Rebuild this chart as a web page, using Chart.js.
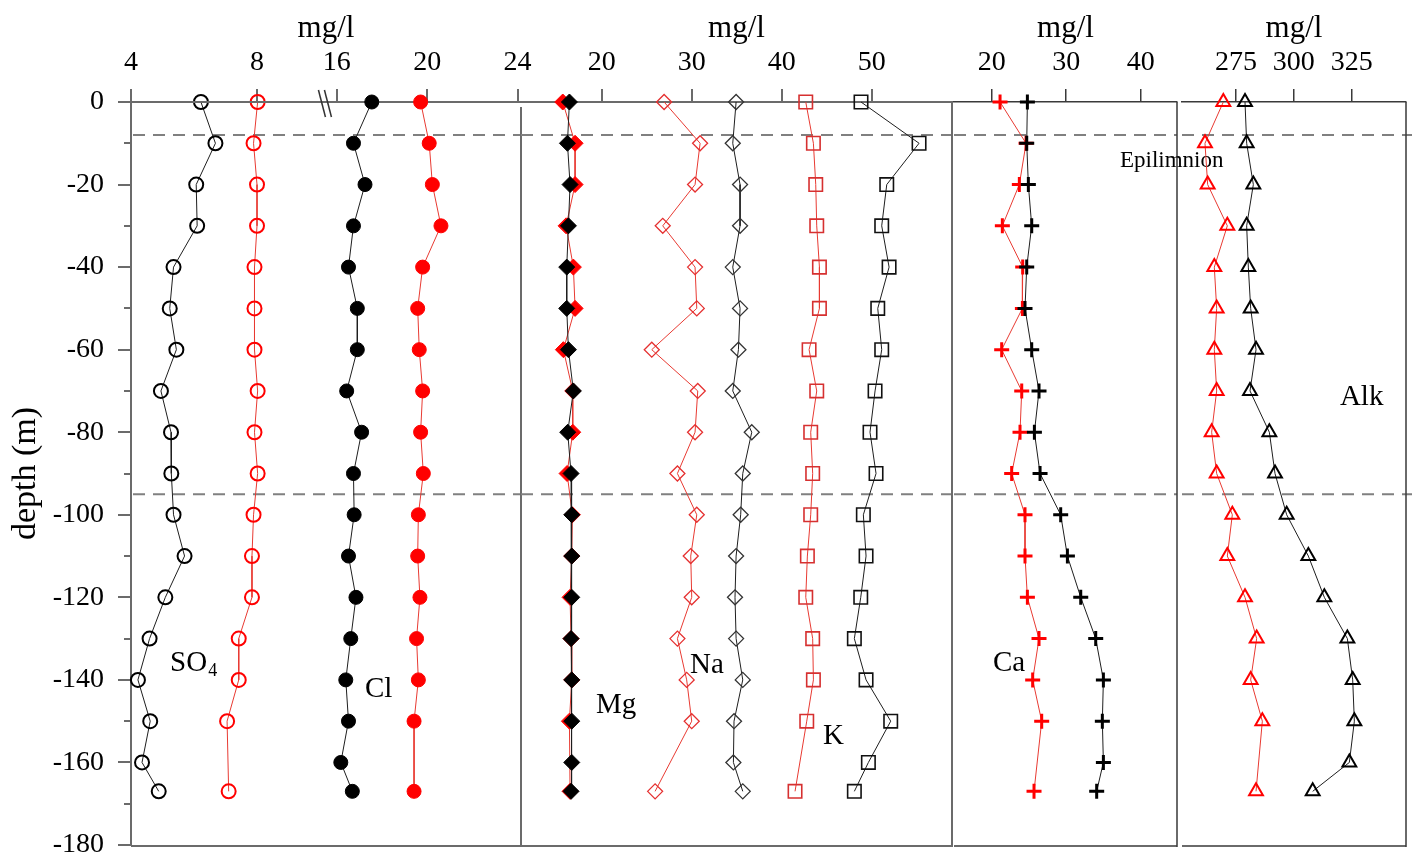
<!DOCTYPE html>
<html><head><meta charset="utf-8">
<script src="https://cdn.jsdelivr.net/npm/chart.js@4.4.1/dist/chart.umd.min.js"></script>
<style>
html,body{margin:0;padding:0;background:#fff;}
#wrap{position:relative;width:1415px;height:859px;overflow:hidden;}
#wrap canvas{position:absolute;left:0;top:0;}
</style></head><body>
<div id="wrap">
<canvas id="c1" width="1415" height="859"></canvas>
<canvas id="c1b" width="1415" height="859"></canvas>
<canvas id="c2" width="1415" height="859"></canvas>
<canvas id="c3" width="1415" height="859"></canvas>
<canvas id="c4" width="1415" height="859"></canvas>
</div>
<script>
const FONT = "'Liberation Serif','Times New Roman',serif";

// ---- data (black = first profile, red = second profile; null = not sampled) ----
const depth = [0,-10,-20,-30,-40,-50,-60,-70,-80,-90,-100,-110,-120,-130,-140,-150,-160,-167];

const so4Black = [6.22,6.68,6.07,6.10,5.35,5.23,5.44,4.95,5.27,5.28,5.35,5.70,5.09,4.59,4.22,4.61,4.35,4.88];
const so4Red   = [8.02,7.89,8.00,8.00,7.92,7.92,7.92,8.02,7.92,8.02,7.89,7.84,7.84,7.42,7.42,7.05,null,7.10];
const clBlack  = [17.55,16.74,17.25,16.74,16.52,16.91,16.91,16.44,17.10,16.74,16.77,16.52,16.85,16.62,16.40,16.52,16.18,16.69];
const clRed    = [19.71,20.09,20.23,20.61,19.80,19.58,19.65,19.80,19.71,19.83,19.61,19.58,19.68,19.53,19.61,19.42,null,19.42];
const mgBlack  = [16.41,16.19,16.48,16.30,16.11,16.11,16.30,16.85,16.22,16.59,16.67,16.67,16.67,16.59,16.67,16.67,16.67,16.59];
const mgRed    = [15.67,17.04,17.04,16.04,16.85,17.04,15.74,16.78,16.78,16.15,16.74,16.67,16.48,16.59,16.67,16.41,null,16.48];
const naBlack  = [34.93,34.56,35.37,35.37,34.56,35.37,35.19,34.56,36.67,35.67,35.44,34.93,34.81,34.93,35.67,34.70,34.63,35.67];
const naRed    = [26.93,30.93,30.37,26.78,30.37,30.56,25.56,30.67,30.37,28.41,30.56,29.89,30.00,28.41,29.44,30.00,null,25.93];
const kBlack   = [48.81,55.26,51.67,51.11,51.93,50.67,51.11,50.37,49.81,50.48,49.07,49.37,48.78,48.07,49.37,52.11,49.63,48.07];
const kRed     = [42.67,43.52,43.78,43.89,44.19,44.19,43.04,43.89,43.22,43.44,43.22,42.85,42.67,43.44,43.52,42.78,null,41.48];
const caBlack  = [24.79,24.70,24.92,25.37,24.70,24.47,25.37,26.35,25.73,26.49,29.26,30.16,31.95,33.96,34.99,34.85,34.99,34.09];
const caRed    = [21.12,24.61,23.71,21.43,24.16,24.12,21.34,24.03,23.80,22.68,24.47,24.47,24.79,26.35,25.50,26.71,null,25.68];
const alkBlack = [278.89,279.61,282.49,279.61,280.33,281.34,283.65,281.05,289.41,291.86,296.90,306.27,313.18,323.13,325.43,326.15,323.99,308.14];
const alkRed   = [269.52,261.60,262.75,271.25,265.63,266.64,265.63,266.64,264.48,266.64,273.41,271.25,278.89,283.93,281.34,286.38,null,283.65];

// ---- tick labels ----
const so4Ticks = [4, 8];
const clTicks  = [16, 20, 24];
const cationTicks = [20, 30, 40, 50];
const caTicks  = [20, 30, 40];
const alkTicks = [275, 300, 325];
const minorDepthTicks = [-170,-150,-130,-110,-90,-70,-50,-30,-10];
const layerDepths = [-8, -95];      // dashed layer boundaries
const axisBreakAt = 15.5;           // Cl-axis value where the axis break is drawn

// ---- helpers ----
const AXIS = '#6b6b6b';
const AXIS2 = '#3a3a3a';
function pts(vals){ const o=[]; vals.forEach((v,i)=>{ if(v!==null) o.push({x:v,y:depth[i]}); }); return o; }
function ds(vals, axis, s){
  return {
    data: pts(vals), xAxisID: axis, yAxisID: 'y', showLine: true, clip: false,
    borderColor: s.line, borderWidth: 1,
    pointStyle: s.style, pointRadius: s.r, pointBorderWidth: s.bw,
    pointBorderColor: s.pc, pointBackgroundColor: s.fill || 'rgba(0,0,0,0)',
    pointHoverRadius: s.r
  };
}
const BL = '#1e1e1e', RL = '#e83a32';
function noPad(s){ s.paddingLeft = 0; s.paddingRight = 0; s.paddingTop = 0; s.paddingBottom = 0; }
function xAxis(min, max, ticks, o){
  const color = o.color || AXIS, width = o.width || 2;
  return {
    type:'linear', position:'top', min, max,
    afterBuildTicks: s => { s.ticks = ticks.map(v => ({value:v})); },
    afterFit: s => { s.height = 102; noPad(s); },
    grid: {drawOnChartArea:false, drawTicks:true, tickLength:13, color, lineWidth:width},
    border: {display:true, color, width},
    ticks: {color:'#000', font:{family:FONT,size:28}, padding:10, maxRotation:0, minRotation:0, autoSkip:false},
    title: o.title ? {display:true, text:o.title, color:'#000', font:{family:FONT,size:31}, padding:{top:10,bottom:0}} : {display:false}
  };
}
const hiddenY = {type:'linear', display:false, min:-180, max:0};

const framePlugin = {
  id: 'frame',
  beforeDatasetsDraw(chart, args, o){
    if (!o.dash) return;
    const {ctx, chartArea:a} = chart, y = chart.scales.y;
    ctx.save();
    ctx.strokeStyle = '#808080'; ctx.lineWidth = 2; ctx.setLineDash([12,8]);
    layerDepths.forEach(d => {
      const py = y.getPixelForValue(d);
      ctx.beginPath(); ctx.moveTo(a.left + (o.dashStart||0), py); ctx.lineTo(a.right + (o.dashEnd||0), py); ctx.stroke();
    });
    ctx.restore();
  },
  afterDraw(chart, args, o){
    const {ctx, chartArea:a} = chart, y = chart.scales.y;
    ctx.save();
    if (o.color){
      ctx.strokeStyle = o.color; ctx.lineWidth = o.width;
      ctx.beginPath();
      ctx.moveTo(a.right, a.top + (o.rightTop||0)); ctx.lineTo(a.right, a.bottom + 2);
      ctx.moveTo(a.left, a.bottom + 1); ctx.lineTo(a.right, a.bottom + 1);
      ctx.stroke();
    }
    if (o.brk){
      const px = chart.scales[o.brk.axis].getPixelForValue(o.brk.value);
      ctx.strokeStyle = '#333'; ctx.lineWidth = 1.5;
      [-3, 3].forEach(off => { ctx.beginPath(); ctx.moveTo(px+off-4, a.top-12); ctx.lineTo(px+off+3, a.top+15); ctx.stroke(); });
    }
    (o.notes||[]).forEach(n => {
      const px = chart.scales[n.axis].getPixelForValue(n.x), py = y.getPixelForValue(n.y);
      const size = n.size || 29;
      ctx.font = size + 'px ' + FONT; ctx.fillStyle = '#000'; ctx.textAlign = 'left'; ctx.textBaseline = 'middle';
      ctx.fillText(n.text, px, py);
      if (n.sub){
        const w = ctx.measureText(n.text).width;
        ctx.font = Math.round(size*0.62) + 'px ' + FONT;
        ctx.fillText(n.sub, px + w + 1, py + 8);
      }
    });
    ctx.restore();
  }
};

function baseOptions(padL, padR, scales, frame){
  return {
    responsive:false, animation:false, events:[],
    layout:{autoPadding:false, padding:{left:padL, right:padR, top:0, bottom:14}},
    scales,
    plugins:{legend:{display:false}, tooltip:{enabled:false}, frame}
  };
}

// ---- Panel 1a: SO4 with depth axis ----
new Chart(document.getElementById('c1'), {
  type:'scatter',
  data:{datasets:[
    ds(so4Black,'xs',{line:BL, style:'circle', r:7, bw:2, pc:'#000'}),
    ds(so4Red,'xs',{line:RL, style:'circle', r:7, bw:2, pc:'#ff0000'})
  ]},
  options: baseOptions(0, 1415-521, {
    xs: xAxis(4, 16.38, so4Ticks, {title:'mg/l'}),
    y: {type:'linear', position:'left', min:-180, max:0, weight:1,
        afterFit: s => { s.width = 131; noPad(s); },
        ticks:{stepSize:20, color:'#000', font:{family:FONT,size:28}, padding:14},
        grid:{drawOnChartArea:false, tickLength:13, color:AXIS, lineWidth:2},
        border:{display:true, color:AXIS, width:2},
        title:{display:true, text:'depth (m)', color:'#000', font:{family:FONT,size:34}, padding:{top:6,bottom:0}}},
    y2: {type:'linear', position:'left', min:-180, max:0, weight:0,
        afterFit: s => { s.width = 0; noPad(s); },
        afterBuildTicks: s => { s.ticks = minorDepthTicks.map(v => ({value:v})); },
        ticks:{display:false},
        grid:{drawOnChartArea:false, tickLength:7, color:AXIS, lineWidth:2},
        border:{display:false}}
  }, {color:AXIS, width:2, rightTop:5, dash:true, dashStart:2,
      notes:[{text:'SO', sub:'4', axis:'xs', x:5.24, y:-136}]}),
  plugins:[framePlugin]
});

// ---- Panel 1b: Cl (own axis over the same area) ----
new Chart(document.getElementById('c1b'), {
  type:'scatter',
  data:{datasets:[
    ds(clBlack,'xc',{line:BL, style:'circle', r:7, bw:1, pc:'#000', fill:'#000'}),
    ds(clRed,'xc',{line:RL, style:'circle', r:7, bw:1, pc:'#ff0000', fill:'#ff0000'})
  ]},
  options: baseOptions(131, 1415-521, {
    xc: xAxis(6.90, 24.15, clTicks, {}),
    y: hiddenY
  }, {brk:{axis:'xc', value:axisBreakAt},
      notes:[{text:'Cl', axis:'xc', x:17.25, y:-142.4}]}),
  plugins:[framePlugin]
});

// ---- Panel 2: Mg, Na, K ----
new Chart(document.getElementById('c2'), {
  type:'scatter',
  data:{datasets:[
    ds(mgBlack,'x',{line:BL, style:'rectRot', r:8, bw:1, pc:'#000', fill:'#000'}),
    ds(mgRed,'x',{line:RL, style:'rectRot', r:8, bw:1, pc:'#ff0000', fill:'#ff0000'}),
    ds(naBlack,'x',{line:BL, style:'rectRot', r:7.5, bw:1.3, pc:'#333'}),
    ds(naRed,'x',{line:RL, style:'rectRot', r:7.5, bw:1.3, pc:'#e53030'}),
    ds(kBlack,'x',{line:BL, style:'rect', r:9.5, bw:1.6, pc:'#111'}),
    ds(kRed,'x',{line:RL, style:'rect', r:9.5, bw:1.6, pc:'#d63030'})
  ]},
  options: baseOptions(521, 1415-952, {
    x: xAxis(11.03, 58.92, cationTicks, {title:'mg/l'}),
    y: hiddenY
  }, {color:AXIS, width:2, dash:true,
      notes:[{text:'Mg', axis:'x', x:19.37, y:-146.1}, {text:'Na', axis:'x', x:29.81, y:-136.6}, {text:'K', axis:'x', x:44.59, y:-153.8}]}),
  plugins:[framePlugin]
});

// ---- Panel 3: Ca ----
new Chart(document.getElementById('c3'), {
  type:'scatter',
  data:{datasets:[
    ds(caBlack,'x',{line:BL, style:'cross', r:7.5, bw:3, pc:'#000'}),
    ds(caRed,'x',{line:RL, style:'cross', r:7.5, bw:3, pc:'#ff0000'})
  ]},
  options: baseOptions(954, 1415-1177, {
    x: xAxis(14.94, 44.87, caTicks, {title:'mg/l', color:AXIS2, width:1.5}),
    y: hiddenY
  }, {color:AXIS2, width:1.5, dash:true,
      notes:[{text:'Ca', axis:'x', x:20.17, y:-136.1}, {text:'Epilimnion', axis:'x', x:37.22, y:-14.3, size:23}]}),
  plugins:[framePlugin]
});

// ---- Panel 4: Alkalinity ----
new Chart(document.getElementById('c4'), {
  type:'scatter',
  data:{datasets:[
    ds(alkBlack,'x',{line:BL, style:'triangle', r:8, bw:2, pc:'#000'}),
    ds(alkRed,'x',{line:RL, style:'triangle', r:8, bw:2, pc:'#ff0000'})
  ]},
  options: baseOptions(1182, 1415-1406, {
    x: xAxis(251.66, 348.47, alkTicks, {title:'mg/l', color:AXIS2, width:1.5}),
    y: hiddenY
  }, {color:AXIS2, width:1.5, dash:true, dashEnd:6,
      notes:[{text:'Alk', axis:'x', x:319.9, y:-71.5}]}),
  plugins:[framePlugin]
});
</script>
</body></html>
